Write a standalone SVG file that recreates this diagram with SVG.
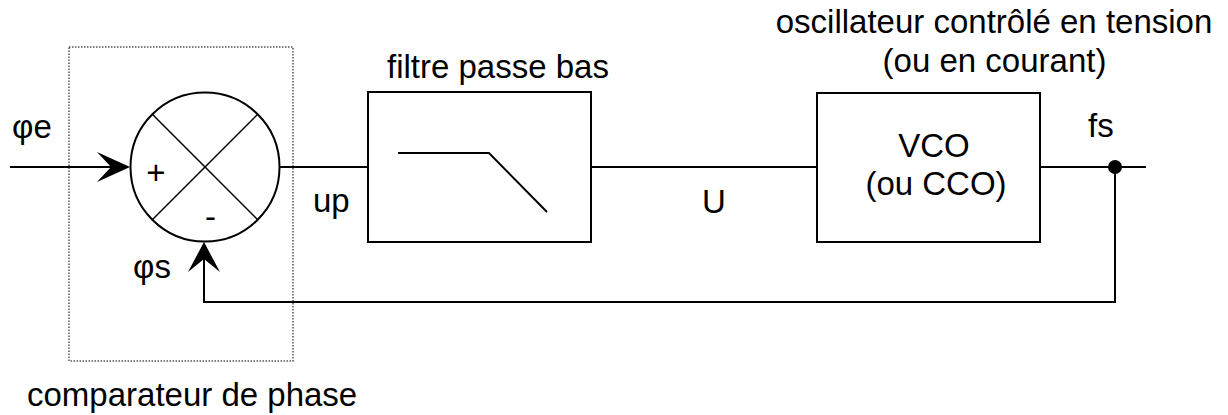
<svg xmlns="http://www.w3.org/2000/svg" width="1228" height="415" viewBox="0 0 1228 415">
<style>
text{font-family:"Liberation Sans",Arial,sans-serif;font-size:33px;fill:#000}
.ln{stroke:#000;stroke-width:2;fill:none}
.thin{stroke:#000;stroke-width:1.5;fill:none}
.box{stroke:#000;stroke-width:2;fill:#fff}
.dot{stroke:#555;stroke-width:1.5;stroke-dasharray:1.5 1.5;fill:none}
.mid{text-anchor:middle}
</style>
<rect x="0" y="0" width="1228" height="415" fill="#fff"/>
<g id="comparateur">
<rect class="dot" x="69" y="47" width="224" height="314"/>
<circle class="ln" cx="205" cy="167" r="74.5" fill="#fff"/>
<line class="thin" x1="152.3" y1="114.3" x2="257.7" y2="219.7"/>
<line class="thin" x1="257.7" y1="114.3" x2="152.3" y2="219.7"/>
<text x="156" y="184" class="mid">+</text>
<text x="210.5" y="228" class="mid">-</text>
<text x="27" y="406">comparateur de phase</text>
</g>
<g id="filtre">
<rect class="box" x="368" y="92" width="223" height="150"/>
<polyline class="ln" points="398,153 489,153 547,212" stroke-width="2"/>
<text x="387" y="78">filtre passe bas</text>
</g>
<g id="vco">
<rect class="box" x="817" y="93" width="223" height="149"/>
<text x="934" y="157" class="mid">VCO</text>
<text x="936" y="195" class="mid">(ou CCO)</text>
<text x="994" y="33" class="mid">oscillateur contrôlé en tension</text>
<text x="994.5" y="72" class="mid">(ou en courant)</text>
</g>
<g id="connectors">
<line class="ln" x1="10" y1="167" x2="128" y2="167"/>
<polygon points="130,167 97,152 111,167 97,182" fill="#000"/>
<line class="ln" x1="279.5" y1="167" x2="368" y2="167"/>
<line class="ln" x1="591" y1="167" x2="817" y2="167"/>
<line class="ln" x1="1040" y1="167" x2="1146" y2="167"/>
<polyline class="ln" points="1115,167 1115,302 204,302 204,245"/>
<polygon points="204,242 220,272 204,259 188,272" fill="#000"/>
<circle cx="1115" cy="167" r="7" fill="#000"/>
<text x="12" y="138">φe</text>
<text x="133" y="278">φs</text>
<text x="313" y="212">up</text>
<text x="702" y="213">U</text>
<text x="1088" y="137">fs</text>
</g>
</svg>
